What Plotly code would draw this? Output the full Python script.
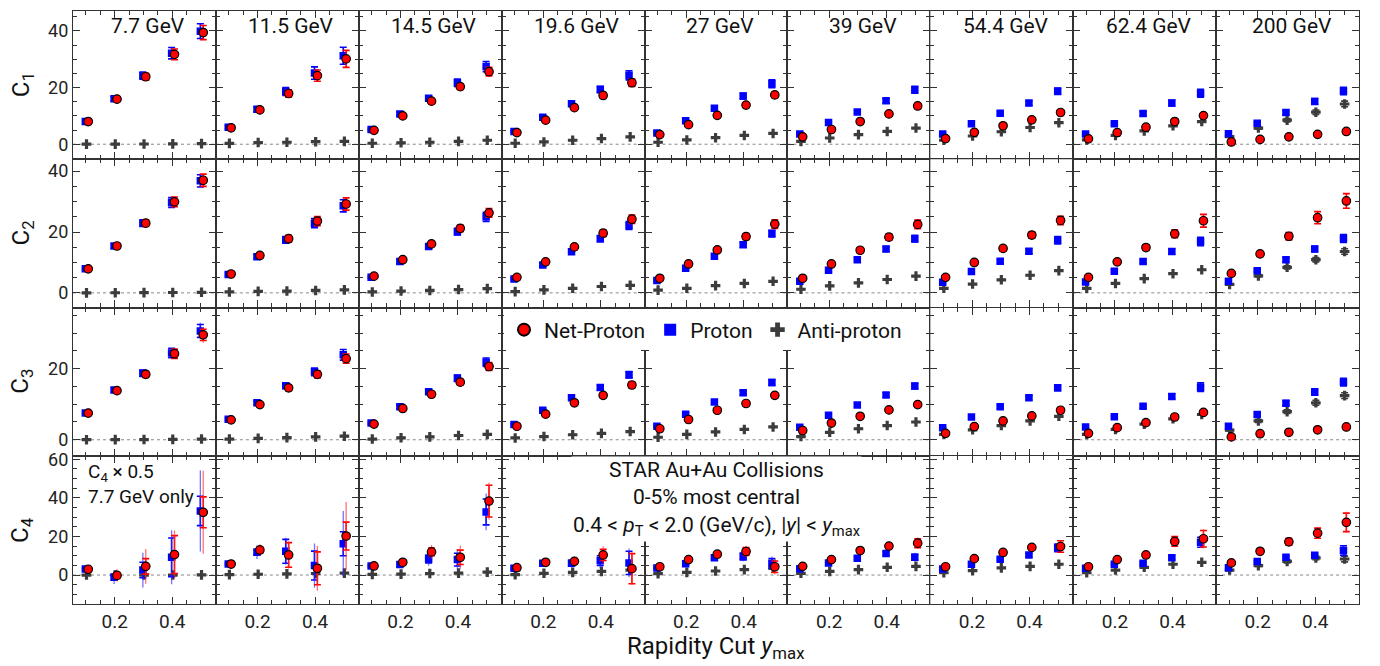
import plotly.graph_objects as go
from plotly.subplots import make_subplots

# ---------------- data ----------------
energies = ["7.7 GeV", "11.5 GeV", "14.5 GeV", "19.6 GeV", "27 GeV",
            "39 GeV", "54.4 GeV", "62.4 GeV", "200 GeV"]
ymax = [0.1, 0.2, 0.3, 0.4, 0.5]
order_labels = ["C<sub>1</sub>", "C<sub>2</sub>", "C<sub>3</sub>", "C<sub>4</sub>"]

C1_net = [[8.0, 15.9, 23.8, 31.7, 39.4], [5.8, 12.1, 17.9, 24.2, 30.1], [4.9, 10.0, 15.2, 20.3, 25.6],
          [4.1, 8.5, 12.9, 17.2, 21.7], [3.4, 6.9, 10.2, 13.8, 17.4], [2.6, 5.2, 8.0, 10.7, 13.5],
          [2.0, 4.2, 6.5, 8.6, 11.2], [1.9, 4.1, 6.0, 8.0, 10.1], [0.8, 1.7, 2.6, 3.5, 4.5]]
C1_pro = [[8.0, 16.0, 24.2, 32.1, 39.9], [6.0, 12.3, 18.6, 25.1, 31.2], [5.2, 10.7, 16.2, 21.7, 27.4],
          [4.5, 9.5, 14.3, 19.3, 24.3], [4.0, 8.3, 12.7, 17.0, 21.3], [3.6, 7.7, 11.4, 15.3, 19.2],
          [3.6, 7.2, 10.9, 14.5, 18.7], [3.6, 7.2, 10.8, 14.5, 18.0], [3.7, 7.4, 11.2, 15.1, 18.8]]
C1_anti = [[0.02, 0.05, 0.08, 0.12, 0.2], [0.3, 0.6, 0.7, 0.9, 1.0], [0.35, 0.5, 0.7, 1.0, 1.4],
           [0.35, 0.8, 1.4, 2.0, 2.6], [0.7, 1.5, 2.3, 3.1, 3.8], [1.0, 2.2, 3.4, 4.5, 5.7],
           [1.4, 2.9, 4.4, 5.9, 7.6], [1.5, 3.1, 4.7, 6.5, 8.0], [2.7, 5.7, 8.5, 11.3, 14.2]]

C2_net = [[7.9, 15.4, 22.9, 29.9, 37.0], [6.2, 12.3, 17.8, 23.6, 29.2], [5.5, 10.9, 16.1, 21.2, 26.3],
          [5.1, 10.2, 15.1, 19.6, 24.2], [4.8, 9.5, 14.1, 18.5, 22.6], [4.8, 9.5, 14.0, 18.3, 22.5],
          [5.1, 10.0, 14.6, 19.0, 23.8], [5.1, 10.2, 14.9, 19.4, 23.7], [6.4, 12.8, 18.6, 24.7, 30.2]]
C2_pro = [[7.9, 15.4, 22.9, 29.7, 36.8], [6.0, 11.9, 17.4, 22.9, 28.6], [5.1, 10.3, 15.2, 20.1, 25.0],
          [4.6, 9.2, 13.5, 17.8, 22.1], [4.1, 8.1, 12.0, 15.8, 19.5], [3.8, 7.4, 10.9, 14.4, 17.8],
          [3.5, 7.0, 10.4, 13.7, 17.3], [3.6, 7.1, 10.3, 13.6, 16.9], [3.8, 7.3, 10.9, 14.4, 17.9]]
C2_anti = [[0.02, 0.05, 0.08, 0.12, 0.2], [0.3, 0.5, 0.6, 0.8, 1.0], [0.3, 0.6, 0.8, 1.1, 1.4],
           [0.4, 1.0, 1.5, 2.1, 2.5], [0.9, 1.5, 2.4, 3.1, 3.8], [1.2, 2.3, 3.3, 4.4, 5.5],
           [1.5, 2.9, 4.3, 5.8, 7.3], [1.5, 3.1, 4.7, 6.3, 7.6], [2.8, 5.6, 8.4, 10.9, 13.6]]

C3_net = [[7.5, 13.8, 18.4, 24.2, 29.5], [5.6, 9.9, 14.6, 18.4, 22.8], [4.4, 8.8, 12.8, 16.2, 20.6],
          [3.8, 7.2, 10.4, 12.5, 15.4], [3.1, 5.7, 8.3, 10.2, 12.5], [2.6, 4.7, 6.6, 8.4, 9.9],
          [1.8, 3.7, 5.3, 6.7, 8.3], [1.8, 3.4, 4.8, 6.4, 7.7], [0.8, 1.7, 2.1, 2.8, 3.6]]
C3_pro = [[7.5, 14.0, 18.7, 24.4, 30.6], [5.8, 10.4, 15.2, 19.1, 23.9], [4.7, 9.3, 13.5, 17.3, 21.8],
          [4.3, 8.3, 11.8, 14.7, 18.3], [3.8, 7.2, 10.6, 13.2, 16.1], [3.5, 6.9, 9.8, 12.6, 15.1],
          [3.4, 6.4, 9.3, 11.8, 14.6], [3.6, 6.5, 9.4, 12.2, 14.8], [3.8, 7.1, 10.3, 13.4, 16.2]]
C3_anti = [[0.02, 0.04, 0.06, 0.1, 0.2], [0.2, 0.4, 0.6, 0.8, 1.0], [0.2, 0.55, 0.8, 1.2, 1.5],
           [0.5, 0.9, 1.4, 1.8, 2.3], [0.7, 1.5, 2.2, 2.9, 3.6], [0.9, 2.1, 3.1, 4.0, 5.0],
           [1.5, 2.8, 4.0, 5.3, 6.6], [1.5, 2.9, 4.4, 5.9, 7.1], [2.7, 5.3, 7.9, 10.4, 12.4]]

C4_net = [[3.0, -0.2, 4.5, 10.6, 32.5], [5.7, 13.0, 10.4, 3.5, 20.2], [4.7, 6.6, 12.0, 9.2, 38.3],
          [3.8, 6.6, 7.1, 10.4, 3.3], [4.3, 8.0, 10.8, 12.2, 4.3], [4.5, 8.0, 12.7, 15.0, 16.5],
          [4.3, 8.5, 11.7, 14.3, 14.8], [4.3, 8.0, 10.4, 17.4, 18.8], [6.3, 12.3, 17.2, 21.7, 27.3]]
C4_pro = [[3.1, -1.2, 2.6, 9.2, 33.2], [5.7, 11.8, 12.3, 4.9, 16.2], [4.7, 5.4, 8.3, 8.0, 32.7],
          [3.5, 6.1, 6.1, 7.5, 6.3], [3.7, 5.9, 8.9, 9.6, 6.1], [3.3, 6.3, 8.7, 11.1, 9.2],
          [3.1, 5.6, 8.2, 10.4, 14.1], [3.5, 5.6, 6.1, 9.0, 17.0], [3.8, 7.0, 9.2, 10.3, 12.7]]
C4_anti = [[0.0, 0.0, 0.0, 0.0, 0.1], [0.2, 0.4, 0.6, 0.8, 1.0], [0.3, 0.5, 0.8, 1.0, 1.5],
           [0.2, 0.9, 1.4, 1.9, 2.6], [0.7, 1.4, 2.1, 2.8, 3.5], [0.9, 1.9, 2.8, 4.0, 4.5],
           [1.2, 2.3, 3.7, 4.5, 5.6], [1.2, 2.6, 4.0, 5.6, 6.6], [2.6, 4.9, 7.1, 8.9, 8.3]]

# systematic errors (brackets)
C1_net_sys = [[0.4, 0.7, 1.2, 1.9, 2.5], [0.4, 0.8, 1.3, 2.0, 3.0], [0.3, 0.5, 0.8, 1.0, 1.5],
              [0.3, 0.5, 0.7, 1.0, 1.3], [0.3, 0.4, 0.6, 0.8, 1.0], [0.2, 0.4, 0.5, 0.7, 0.9],
              [0.2, 0.3, 0.5, 0.6, 0.8], [0.2, 0.3, 0.5, 0.7, 0.9], [0.1, 0.2, 0.3, 0.4, 0.5]]
C1_pro_sys = [[0.5, 0.8, 1.3, 2.0, 2.6], [0.5, 0.9, 1.4, 2.2, 3.0], [0.3, 0.6, 0.9, 1.3, 1.8],
              [0.3, 0.5, 0.8, 1.1, 1.6], [0.3, 0.5, 0.7, 1.0, 1.4], [0.3, 0.4, 0.6, 0.8, 1.2],
              [0.2, 0.4, 0.6, 0.8, 1.1], [0.3, 0.4, 0.7, 1.0, 1.4], [0.3, 0.5, 0.7, 1.0, 1.3]]
C2_net_sys = [[0.4, 0.7, 1.1, 1.6, 2.0], [0.4, 0.7, 1.1, 1.5, 2.0], [0.3, 0.6, 0.8, 1.1, 1.4],
              [0.3, 0.5, 0.8, 1.1, 1.4], [0.3, 0.5, 0.7, 1.0, 1.4], [0.3, 0.5, 0.7, 1.0, 1.4],
              [0.3, 0.5, 0.8, 1.0, 1.4], [0.3, 0.6, 0.9, 1.3, 2.1], [0.4, 0.8, 1.2, 2.0, 2.4]]
C2_pro_sys = [[0.4, 0.7, 1.1, 1.6, 2.0], [0.4, 0.7, 1.1, 1.5, 2.0], [0.3, 0.6, 0.8, 1.1, 1.5],
              [0.3, 0.5, 0.7, 1.0, 1.3], [0.3, 0.4, 0.6, 0.8, 1.1], [0.2, 0.4, 0.6, 0.8, 1.1],
              [0.2, 0.4, 0.6, 0.8, 1.2], [0.2, 0.4, 0.6, 0.9, 1.4], [0.2, 0.4, 0.7, 0.9, 1.3]]
C3_net_sys = [[0.4, 0.6, 0.9, 1.3, 1.6], [0.3, 0.5, 0.8, 1.0, 1.3], [0.3, 0.4, 0.6, 0.8, 1.1],
              [0.2, 0.4, 0.5, 0.6, 0.8], [0.2, 0.3, 0.4, 0.5, 0.7], [0.2, 0.3, 0.4, 0.5, 0.6],
              [0.2, 0.3, 0.4, 0.5, 0.6], [0.2, 0.3, 0.4, 0.5, 0.6], [0.1, 0.2, 0.2, 0.3, 0.4]]
C3_pro_sys = [[0.4, 0.6, 0.9, 1.3, 1.8], [0.3, 0.5, 0.8, 1.1, 1.5], [0.3, 0.5, 0.7, 0.9, 1.2],
              [0.2, 0.4, 0.6, 0.7, 0.9], [0.2, 0.4, 0.5, 0.7, 0.8], [0.2, 0.3, 0.5, 0.6, 0.8],
              [0.2, 0.3, 0.5, 0.6, 0.8], [0.2, 0.3, 0.5, 0.7, 1.2], [0.3, 0.5, 0.7, 0.9, 1.1]]
C4_net_sys = [[0.5, 1.5, 4.0, 9.8, 8.0], [0.5, 1.5, 6.4, 8.5, 7.2], [0.4, 1.0, 2.0, 3.7, 8.2],
              [0.3, 0.7, 1.5, 2.9, 7.8], [0.3, 0.6, 1.0, 2.0, 3.0], [0.3, 0.5, 0.8, 1.2, 2.3],
              [0.3, 0.4, 0.7, 1.0, 3.0], [0.3, 0.5, 0.8, 2.5, 4.3], [0.4, 0.8, 1.8, 2.6, 4.8]]
C4_pro_sys = [[0.5, 1.5, 4.0, 10.0, 7.6], [0.5, 1.5, 6.2, 7.5, 6.2], [0.4, 1.0, 2.0, 3.3, 6.7],
              [0.3, 0.7, 1.5, 2.5, 6.0], [0.3, 0.5, 1.0, 1.8, 2.5], [0.3, 0.4, 0.7, 1.0, 1.5],
              [0.3, 0.4, 0.6, 0.9, 2.0], [0.3, 0.4, 0.6, 1.0, 2.6], [0.3, 0.5, 0.7, 1.0, 2.5]]
anti_sys_200 = [[0.2, 0.4, 0.6, 0.8, 1.0], [0.2, 0.4, 0.5, 0.7, 0.9],
                [0.2, 0.4, 0.5, 0.7, 0.8], [0.3, 0.5, 0.8, 1.0, 1.5]]

# statistical errors (lines)
C3_net_stat = [[0.2, 0.3, 0.6, 1.2, 2.2], [0.1, 0.2, 0.3, 0.5, 0.8], [0.1, 0.2, 0.3, 0.4, 0.6],
               [0.1, 0.1, 0.2, 0.3, 0.4], [0.1, 0.1, 0.2, 0.3, 0.4], [0.1, 0.1, 0.2, 0.2, 0.3],
               [0.1, 0.1, 0.2, 0.2, 0.3], [0.1, 0.1, 0.2, 0.2, 0.3], [0.1, 0.1, 0.1, 0.2, 0.2]]
C3_pro_stat = [[0.2, 0.3, 0.6, 1.3, 2.3], [0.1, 0.2, 0.3, 0.5, 0.8], [0.1, 0.2, 0.3, 0.4, 0.6],
               [0.1, 0.1, 0.2, 0.3, 0.4], [0.1, 0.1, 0.2, 0.3, 0.4], [0.1, 0.1, 0.2, 0.2, 0.3],
               [0.1, 0.1, 0.2, 0.2, 0.3], [0.1, 0.1, 0.2, 0.2, 0.3], [0.1, 0.1, 0.1, 0.2, 0.2]]
C4_net_stat = [[1.0, 3.2, 9.0, 12.5, 21.5], [1.0, 3.0, 7.0, 11.7, 17.7], [0.8, 1.5, 3.5, 6.0, 9.5],
               [0.6, 1.2, 2.5, 4.5, 8.5], [0.5, 1.0, 1.8, 3.0, 4.0], [0.4, 0.8, 1.2, 1.8, 3.0],
               [0.4, 0.7, 1.0, 1.5, 2.5], [0.5, 0.8, 1.2, 3.0, 5.0], [0.6, 1.0, 1.5, 3.0, 5.5]]
C4_pro_stat = [[1.0, 3.5, 9.0, 14.0, 21.0], [1.0, 3.5, 7.0, 11.5, 17.0], [0.8, 1.5, 3.5, 5.5, 9.5],
               [0.6, 1.2, 2.3, 4.0, 7.5], [0.5, 0.9, 1.5, 2.5, 3.5], [0.4, 0.7, 1.1, 1.5, 2.3],
               [0.4, 0.6, 0.9, 1.3, 2.0], [0.4, 0.7, 1.0, 1.5, 3.0], [0.5, 0.8, 1.0, 1.3, 2.5]]

row_ranges = [[-5.3, 47.0], [-4.8, 43.9], [-4.5, 37.2], [-15.0, 61.8]]

# ---------------- figure ----------------
W, H = 1380, 666
ML, MR, MT, MB = 73, 21, 4, 62
fig = make_subplots(rows=4, cols=9, horizontal_spacing=0, vertical_spacing=0)

RED, BLUE, GRAY = "#ff0000", "#0000ff", "#3c3c3c"
species = [
    ("Anti-proton", dict(symbol="cross", size=8, color=GRAY, line=dict(width=0)), GRAY, "rgba(60,60,60,0.6)", 0.002),
    ("Proton", dict(symbol="square", size=7.5, color=BLUE, line=dict(width=0)), BLUE, "rgba(40,40,255,0.65)", -0.002),
    ("Net-Proton", dict(symbol="circle", size=8.5, color=RED, line=dict(width=1.2, color="black")), RED, "rgba(255,40,40,0.65)", 0.008),
]

vals = [(C1_anti, C1_pro, C1_net), (C2_anti, C2_pro, C2_net), (C3_anti, C3_pro, C3_net), (C4_anti, C4_pro, C4_net)]
syss = [(None, C1_pro_sys, C1_net_sys), (None, C2_pro_sys, C2_net_sys),
        (None, C3_pro_sys, C3_net_sys), (None, C4_pro_sys, C4_net_sys)]
stats = [(None, None, None), (None, None, None), (None, C3_pro_stat, C3_net_stat), (None, C4_pro_stat, C4_net_stat)]

shown = set()
for r in range(4):
    for c in range(9):
        for s, (name, mk, col, scol, dx) in enumerate(species):
            y = vals[r][s][c]
            x = [v + dx for v in ymax]
            if s == 0:
                sys = anti_sys_200[r] if c == 8 else [0.05] * 5
            else:
                sys = syss[r][s][c]
            st = stats[r][s][c] if stats[r][s] is not None else None
            fig.add_trace(go.Scatter(x=x, y=y, mode="markers", marker=dict(size=8, opacity=0),
                                     error_y=dict(type="data", array=sys, width=3.5, thickness=1.6, color=col),
                                     showlegend=False, hoverinfo="skip"), row=r + 1, col=c + 1)
            kw = {}
            if st is not None:
                kw["error_y"] = dict(type="data", array=st, width=0, thickness=1.3, color=scol)
            fig.add_trace(go.Scatter(x=x, y=y, mode="markers", marker=mk, name=name,
                                     showlegend=(name not in shown), legendrank=3 - s, **kw),
                          row=r + 1, col=c + 1)
            shown.add(name)

tick_font = dict(family="Roboto, Arial, sans-serif", size=18, color="#222")
for r in range(4):
    for c in range(9):
        fig.update_xaxes(row=r + 1, col=c + 1, range=[0.055, 0.552], tickvals=[0.2, 0.4],
                         ticktext=["0.2", "0.4"], ticks="inside", ticklen=7, tickwidth=1.2,
                         tickcolor="#333", showline=True, mirror="allticks", linecolor="#333",
                         linewidth=1.1, showgrid=False, zeroline=False,
                         minor=dict(tickvals=[0.1, 0.15, 0.25, 0.3, 0.35, 0.45, 0.5], ticklen=4,
                                    tickwidth=1.1, tickcolor="#333", ticks="inside", showgrid=False),
                         showticklabels=(r == 3), tickfont=dict(tick_font, size=19))
        fig.update_yaxes(row=r + 1, col=c + 1, range=row_ranges[r], dtick=20, tick0=0,
                         ticks="inside", ticklen=7, tickwidth=1.2, tickcolor="#333",
                         showline=True, mirror="allticks", linecolor="#333", linewidth=1.1,
                         showgrid=False, zeroline=False,
                         minor=dict(dtick=5, tick0=0, ticklen=4, tickwidth=1.1, tickcolor="#333",
                                    ticks="inside", showgrid=False),
                         showticklabels=(c == 0), tickfont=tick_font)
        fig.add_shape(type="line", x0=0, x1=1, xref="x domain" if (r == 0 and c == 0) else f"x{r*9+c+1} domain",
                      y0=0, y1=0, yref="y" if (r == 0 and c == 0) else f"y{r*9+c+1}",
                      line=dict(color="#888", width=1, dash="dot"), layer="below")

PW = W - ML - MR
PH = H - MT - MB


def px(xp):
    return (xp - ML) / PW


def py(yp):
    return (H - MB - yp) / PH


font = "Roboto, Arial, sans-serif"
ann = []
col_w = PW / 9
for i, e in enumerate(energies):
    ann.append(dict(x=px(ML + col_w * i + col_w / 2 + 4), y=py(19), xref="paper", yref="paper",
                    xanchor="center", yanchor="middle",
                    text=e, showarrow=False, font=dict(family=font, size=21, color="#111")))
row_h = PH / 4
for r, t in enumerate(order_labels):
    ann.append(dict(x=px(22), y=py(MT + row_h * r + row_h / 2), xref="paper", yref="paper", text=t,
                    xanchor="center", yanchor="middle",
                    showarrow=False, textangle=-90, font=dict(family=font, size=24, color="#111")))
ann.append(dict(x=px(716), y=py(648), xref="paper", yref="paper", xanchor="center", yanchor="middle",
                text="Rapidity Cut <i>y</i><sub>max</sub>", showarrow=False,
                font=dict(family=font, size=24, color="#111")))
ann.append(dict(x=px(716), y=py(454), xref="paper", yref="paper", yanchor="top", xanchor="center",
                text="STAR Au+Au Collisions<br>0-5% most central<br>0.4 &lt; <i>p</i><sub>T</sub> &lt; 2.0 (GeV/c), |<i>y</i>| &lt; <i>y</i><sub>max</sub>",
                showarrow=False, bgcolor="white", font=dict(family=font, size=21, color="#111")))
ann.append(dict(x=px(86), y=py(456), xref="paper", yref="paper", yanchor="top", xanchor="left", align="left",
                text="C<sub>4</sub> × 0.5<br>7.7 GeV only", showarrow=False,
                font=dict(family=font, size=19, color="#111")))

fig.update_layout(
    width=W, height=H, margin=dict(l=ML, r=MR, t=MT, b=MB),
    paper_bgcolor="white", plot_bgcolor="white", annotations=ann,
    font=dict(family=font, color="#111"),
    legend=dict(orientation="h", x=px(504), y=py(306), xanchor="left", yanchor="top",
                bgcolor="white", font=dict(family=font, size=21, color="#111"),
                itemsizing="constant", traceorder="normal", entrywidth=0),
)

fig.write_html("out.html", config={"displayModeBar": False},
               post_script="document.body.style.margin='0';document.body.style.overflow='hidden';")
